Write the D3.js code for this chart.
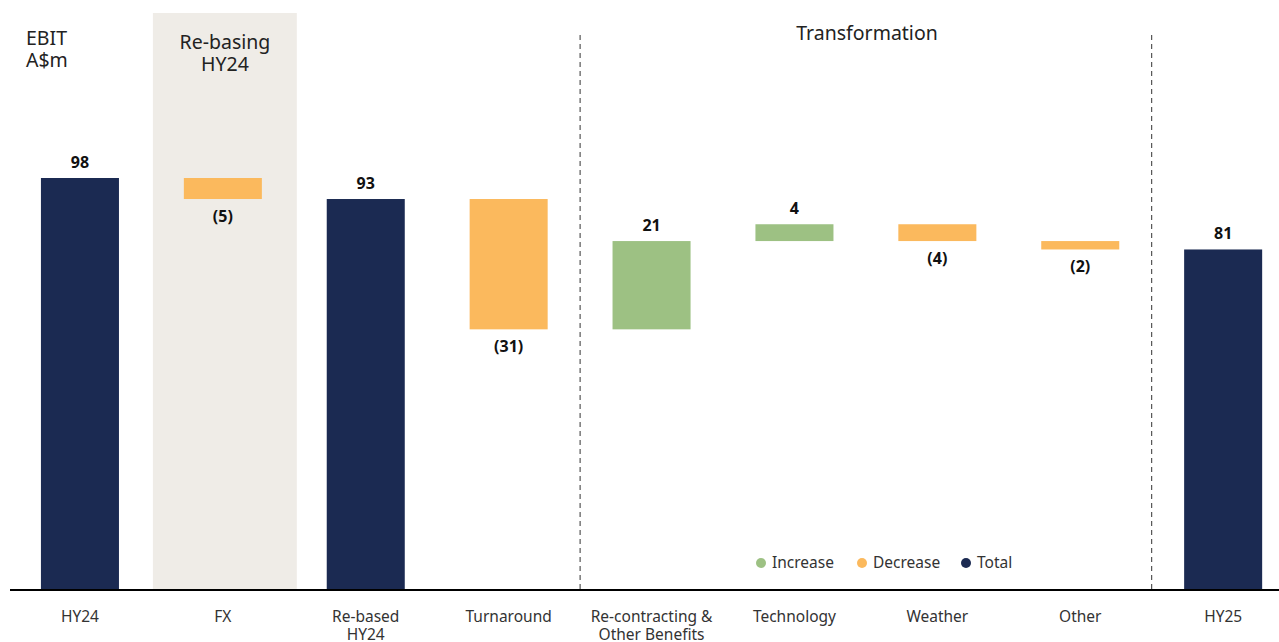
<!DOCTYPE html>
<html><head><meta charset="utf-8">
<script src="https://cdn.jsdelivr.net/npm/d3@7"></script>
<style>body{margin:0;background:#fff;} svg{display:block;} text{font-family:"Noto Sans",Inter,sans-serif;}</style>
</head><body><svg id="c" width="1279" height="642"></svg>
<script>
const categories = ["HY24","FX","Re-based\nHY24","Turnaround","Re-contracting &\nOther Benefits","Technology","Weather","Other","HY25"];
const values = [98, -5, 93, -31, 21, 4, -4, -2, 81];
const kinds = ["total","delta","total","delta","delta","delta","delta","delta","total"];
const valueLabels = ["98","(5)","93","(31)","21","4","(4)","(2)","81"];
const legendItems = ["Increase","Decrease","Total"];
const colors = {Increase:"#9DC183", Decrease:"#FBB95D", Total:"#1B2A52"};

const svg = d3.select("#c");
const base = 590;
const x = d3.scaleBand().domain(categories).range([8.5, 1294.6]).paddingInner(0.454).paddingOuter(0.227);
const y = d3.scaleLinear().domain([0, 98]).range([base, 178]);

let run = 0;
const bars = categories.map((c, i) => {
  let y0, y1, type;
  if (kinds[i] === "total") { y0 = 0; y1 = values[i]; run = values[i]; type = "Total"; }
  else { y0 = run; y1 = run + values[i]; run = y1; type = values[i] >= 0 ? "Increase" : "Decrease"; }
  return {c, y0, y1, type, v: values[i], label: valueLabels[i]};
});

const step = x.step();
svg.append("rect").attr("x", x("FX") + x.bandwidth()/2 - step/2 + 1.5).attr("y", 13)
  .attr("width", step + 1).attr("height", base - 13).attr("fill", "#EFECE7");

[["Turnaround","Re-contracting &\nOther Benefits"],["Other","HY25"]].forEach(([a,b]) => {
  const xm = (x(a) + x(b)) / 2 + x.bandwidth()/2;
  svg.append("line").attr("x1", xm).attr("x2", xm).attr("y1", 35).attr("y2", base)
    .attr("stroke", "#333").attr("stroke-width", 1).attr("stroke-dasharray", "5,4");
});

svg.selectAll("rect.bar").data(bars).join("rect").attr("class","bar")
  .attr("x", d => x(d.c)).attr("width", x.bandwidth())
  .attr("y", d => y(Math.max(d.y0, d.y1)))
  .attr("height", d => Math.abs(y(d.y0) - y(d.y1)))
  .attr("fill", d => colors[d.type]);

svg.selectAll("text.val").data(bars).join("text").attr("class","val")
  .attr("x", d => x(d.c) + x.bandwidth()/2)
  .attr("y", d => d.type === "Decrease" ? y(Math.min(d.y0, d.y1)) + 23 : y(Math.max(d.y0, d.y1)) - 10)
  .attr("text-anchor", "middle").attr("font-size", 16).attr("font-weight", "bold").attr("fill", "#111")
  .text(d => d.label);

svg.append("line").attr("x1", 10).attr("x2", 1279).attr("y1", base).attr("y2", base)
  .attr("stroke", "#000").attr("stroke-width", 2);

categories.forEach(c => {
  const lines = c.split("\n");
  const cx = x(c) + x.bandwidth()/2;
  const t = svg.append("text").attr("x", cx).attr("y", 622)
    .attr("text-anchor", "middle").attr("font-size", 15.5).attr("fill", "#333");
  lines.forEach((l, i) => t.append("tspan").attr("x", cx).attr("dy", i ? 18 : 0).text(l));
});

const tt = svg.append("text").attr("x", 26).attr("y", 45).attr("font-size", 19.5).attr("fill", "#222");
tt.append("tspan").attr("x", 26).text("EBIT");
tt.append("tspan").attr("x", 26).attr("dy", 22).text("A$m");
const rb = svg.append("text").attr("x", 225).attr("y", 49).attr("font-size", 19.5).attr("fill", "#222").attr("text-anchor","middle");
rb.append("tspan").attr("x", 225).text("Re-basing");
rb.append("tspan").attr("x", 225).attr("dy", 22).text("HY24");
svg.append("text").attr("x", 867).attr("y", 40).attr("font-size", 19.5).attr("fill", "#222").attr("text-anchor","middle").text("Transformation");

const lx = [761, 862, 966];
legendItems.forEach((k, i) => {
  svg.append("circle").attr("cx", lx[i]).attr("cy", 563).attr("r", 5).attr("fill", colors[k]);
  svg.append("text").attr("x", lx[i] + 11).attr("y", 568).attr("font-size", 15.5).attr("fill", "#333").text(k);
});
</script></body></html>
